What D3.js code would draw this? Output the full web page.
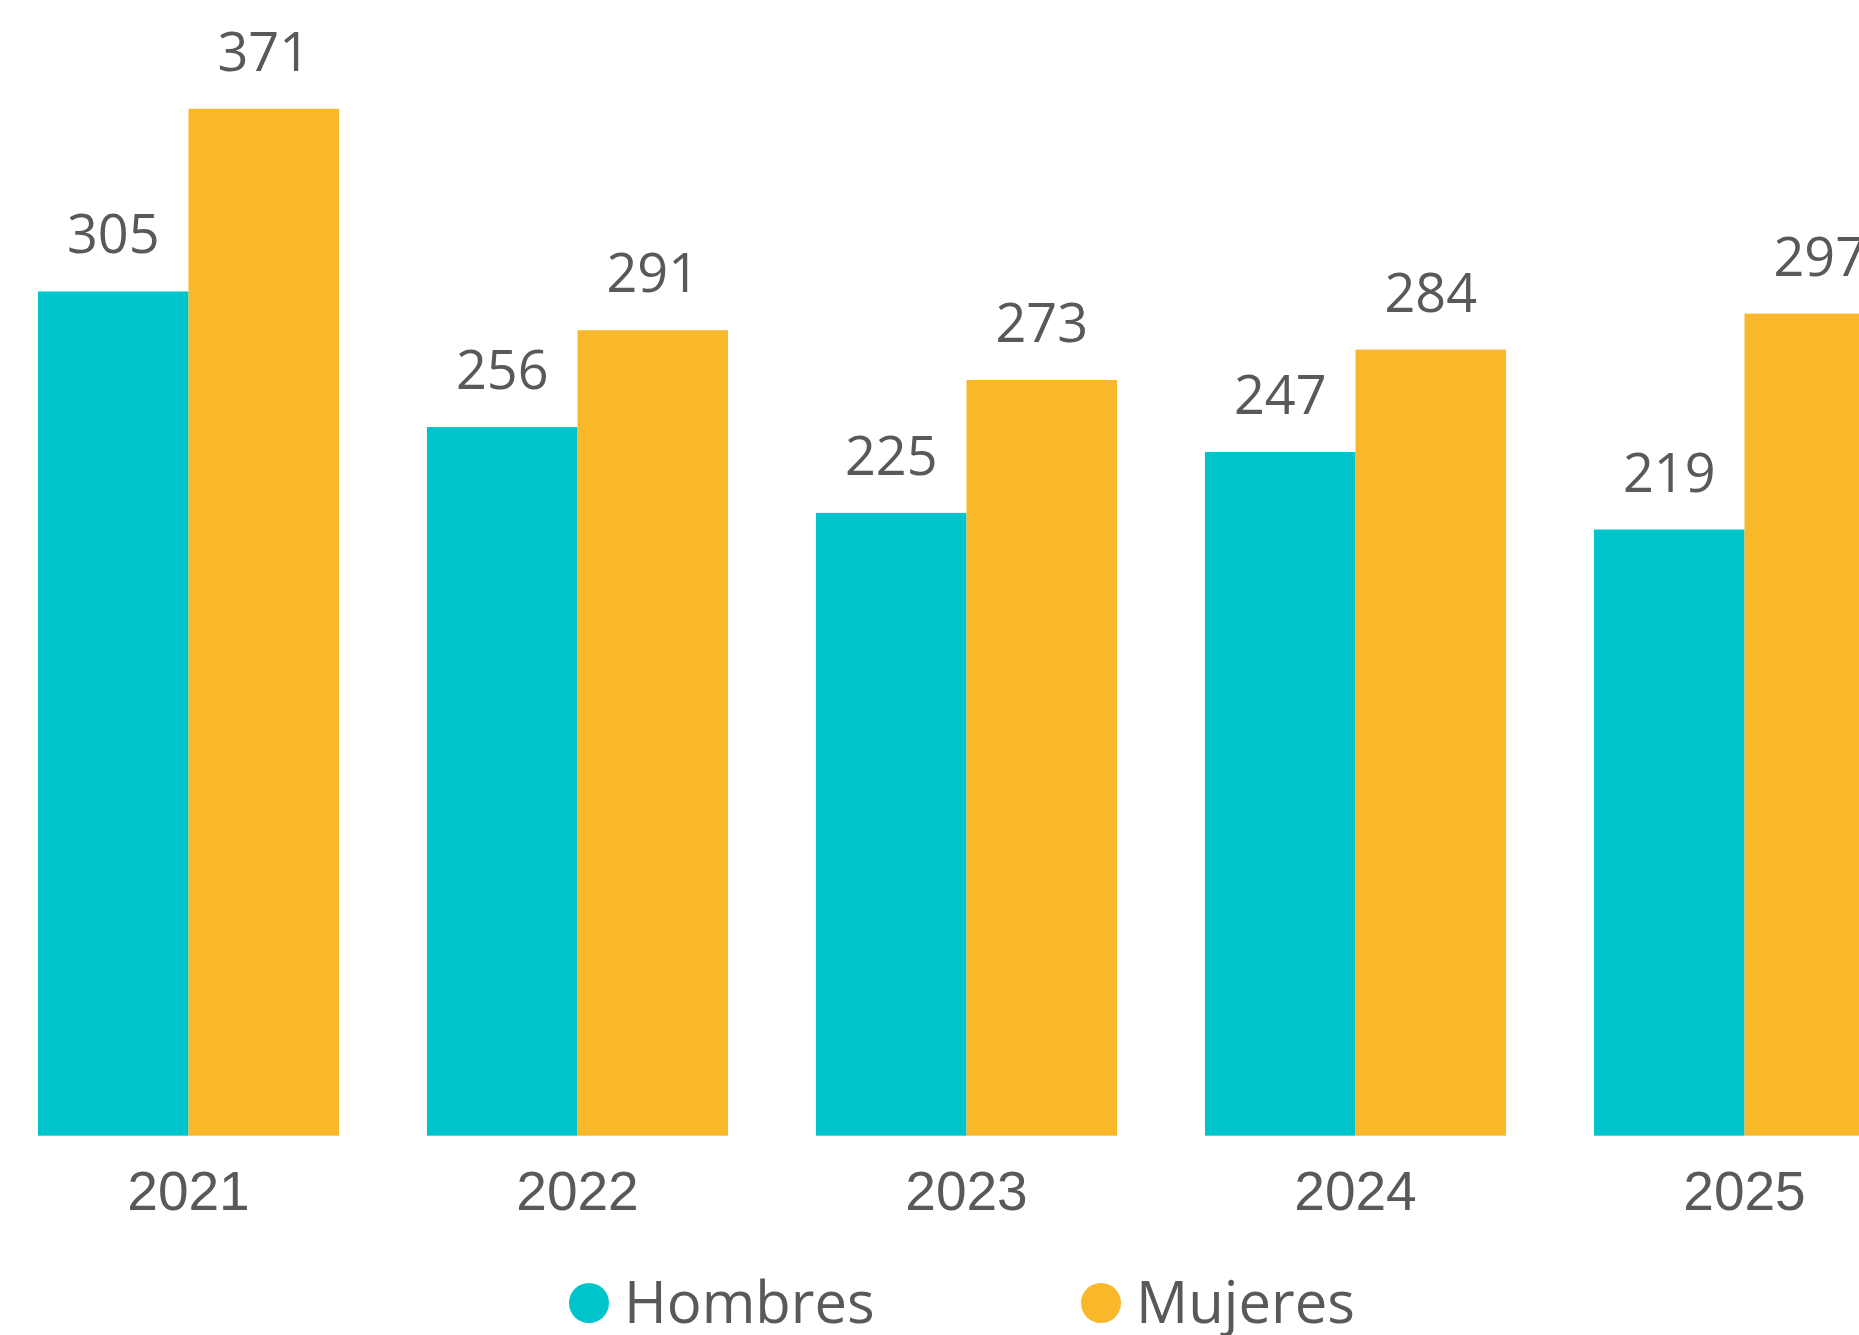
<!DOCTYPE html>
<html lang="es">
<head>
<meta charset="UTF-8">
<title>Hombres y Mujeres 2021-2025</title>
<script src="https://d3js.org/d3.v7.min.js"></script>
<style>
    body { margin: 0; background: #fff; overflow: hidden; }
    svg { display: block; }
    .valor { font-family: 'Open Sans', sans-serif; font-size: 54px; fill: #595959; text-anchor: middle; }
    .anio { font-family: 'Liberation Sans', Arial, sans-serif; font-size: 55px; fill: #595959; text-anchor: middle; }
    .leyenda { font-family: 'Open Sans', sans-serif; font-size: 58px; fill: #595959; }
</style>
</head>
<body>
<svg id="chart"></svg>
<script>
// datos
const anios = ["2021", "2022", "2023", "2024", "2025"];
const series = ["Hombres", "Mujeres"];
const hombres = [305, 256, 225, 247, 219];
const mujeres = [371, 291, 273, 284, 297];
const colores = ["#00C4CC", "#F9B72A"];

const width = 1859, height = 1335;
const svg = d3.select("#chart").attr("width", width).attr("height", height);

const step = 389;
const x = d3.scaleBand()
    .domain(anios)
    .range([-6, -6 + step * anios.length])
    .paddingInner(0.226)
    .paddingOuter(0.113);

const xSub = d3.scaleBand()
    .domain(series)
    .range([0, x.bandwidth()]);

const y = d3.scaleLinear()
    .domain([0, 400])
    .range([1135.7, 1135.7 - 400 * 2.768]);

const filas = anios.map((a, i) => ({ anio: a, valores: [hombres[i], mujeres[i]] }));

const grupos = svg.append("g").selectAll("g")
    .data(filas)
    .join("g")
    .attr("transform", d => `translate(${x(d.anio)},0)`);

grupos.selectAll("rect")
    .data(d => d.valores.map((v, j) => ({ serie: series[j], v, j })))
    .join("rect")
    .attr("x", d => xSub(d.serie))
    .attr("y", d => y(d.v))
    .attr("width", xSub.bandwidth())
    .attr("height", d => y(0) - y(d.v))
    .attr("fill", d => colores[d.j]);

grupos.selectAll("text.valor")
    .data(d => d.valores.map((v, j) => ({ serie: series[j], v })))
    .join("text")
    .attr("class", "valor")
    .attr("x", d => xSub(d.serie) + xSub.bandwidth() / 2)
    .attr("y", d => y(d.v) - 38)
    .text(d => d.v);

// eje x sin linea
const ejeX = svg.append("g")
    .attr("transform", `translate(0,${y(0)})`)
    .call(d3.axisBottom(x).tickSize(0).tickPadding(0));
ejeX.select(".domain").remove();
ejeX.selectAll("text")
    .attr("class", "anio")
    .attr("fill", null)
    .attr("font-size", null)
    .attr("font-family", null)
    .attr("dy", null)
    .attr("y", 74);

// leyenda
const leyX = [589, 1101];
const ley = svg.append("g").selectAll("g")
    .data(series)
    .join("g")
    .attr("transform", (d, i) => `translate(${leyX[i]},1303)`);
ley.append("circle").attr("r", 20).attr("fill", (d, i) => colores[i]);
ley.append("text")
    .attr("class", "leyenda")
    .attr("x", 35)
    .attr("y", 20)
    .text(d => d);
</script>
</body>
</html>
